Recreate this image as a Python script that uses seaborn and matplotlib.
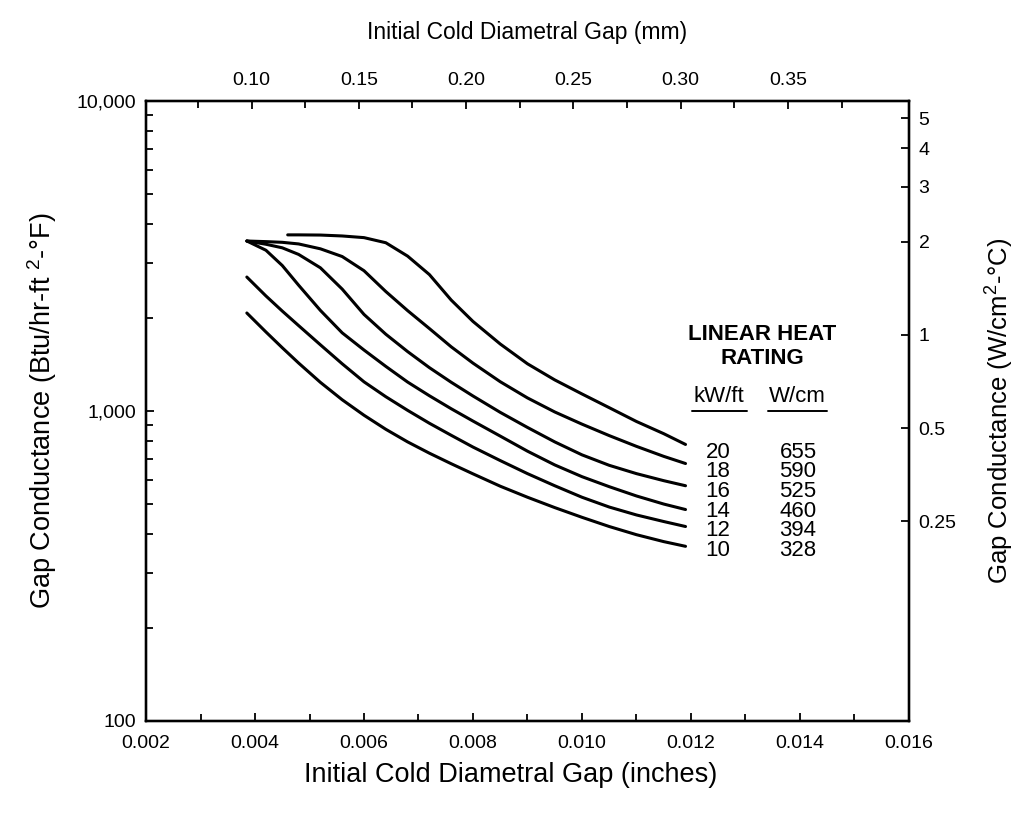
import numpy as np
import pandas as pd
import matplotlib
matplotlib.use("Agg")
import matplotlib.pyplot as plt
import seaborn as sns
from matplotlib.ticker import FixedLocator, NullFormatter, NullLocator, LogLocator
from matplotlib.lines import Line2D

# ---------------- data ----------------
gap_in = [0.00385, 0.0042, 0.0045, 0.0048, 0.0052, 0.0056, 0.0060, 0.0064, 0.0068, 0.0072,
          0.0076, 0.0080, 0.0085, 0.0090, 0.0095, 0.0100, 0.0105, 0.0110, 0.0115, 0.0119]
gap_in_20 = [0.0046, 0.0048, 0.0052, 0.0056, 0.0060, 0.0064, 0.0068, 0.0072, 0.0076,
             0.0080, 0.0085, 0.0090, 0.0095, 0.0100, 0.0105, 0.0110, 0.0115, 0.0119]

h_20 = [3700, 3700, 3695, 3670, 3625, 3490, 3160, 2755, 2280, 1945, 1645, 1420, 1260, 1135, 1025, 925, 845, 780]
h_18 = [3535, 3519, 3501, 3459, 3336, 3150, 2835, 2429, 2108, 1845, 1611, 1427, 1243, 1102, 993, 907, 833, 769, 714, 677]
h_16 = [3535, 3451, 3361, 3200, 2897, 2473, 2049, 1769, 1555, 1380, 1238, 1118, 990, 885, 795, 722, 668, 628, 596, 574]
h_14 = [3535, 3301, 2947, 2546, 2111, 1787, 1573, 1393, 1240, 1120, 1017, 928, 830, 742, 670, 614, 570, 532, 501, 481]
h_12 = [2705, 2351, 2101, 1886, 1635, 1420, 1242, 1112, 1005, 913, 835, 765, 692, 628, 574, 527, 490, 462, 440, 424]
h_10 = [2071, 1799, 1600, 1428, 1237, 1087, 969, 873, 795, 731, 676, 627, 572, 527, 488, 454, 424, 399, 379, 366]

ratings_kwft = ["20", "18", "16", "14", "12", "10"]
ratings_wcm = ["655", "590", "525", "460", "394", "328"]

x_major = [0.002, 0.004, 0.006, 0.008, 0.010, 0.012, 0.014, 0.016]
x_major_labels = ["0.002", "0.004", "0.006", "0.008", "0.010", "0.012", "0.014", "0.016"]
x_minor = [0.003, 0.005, 0.007, 0.009, 0.011, 0.013, 0.015]
y_major = [100, 1000, 10000]
y_major_labels = ["100", "1,000", "10,000"]

mm_major = [0.10, 0.15, 0.20, 0.25, 0.30, 0.35]
mm_major_labels = ["0.10", "0.15", "0.20", "0.25", "0.30", "0.35"]
mm_minor = [0.075, 0.125, 0.175, 0.225, 0.275, 0.325, 0.375]
MM_PER_IN = 25.4

wcm_ticks = [5, 4, 3, 2, 1, 0.5, 0.25]
wcm_labels = ["5", "4", "3", "2", "1", "0.5", "0.25"]
BTU_PER_WCM = 1761.0

# ---------------- build table ----------------
frames = []
for r, xs, ys in [("20", gap_in_20, h_20), ("18", gap_in, h_18), ("16", gap_in, h_16),
                  ("14", gap_in, h_14), ("12", gap_in, h_12), ("10", gap_in, h_10)]:
    frames.append(pd.DataFrame({"gap": xs, "h": ys, "rating": r}))
df = pd.concat(frames, ignore_index=True)

# ---------------- style ----------------
sns.set_style("ticks")
plt.rcParams["font.family"] = ["Liberation Sans", "DejaVu Sans"]
plt.rcParams["mathtext.fontset"] = "custom"
plt.rcParams["mathtext.rm"] = "Liberation Sans"
plt.rcParams["mathtext.it"] = "Liberation Sans:italic"
plt.rcParams["mathtext.bf"] = "Liberation Sans:bold"
plt.rcParams["text.color"] = "black"
plt.rcParams["axes.edgecolor"] = "black"
plt.rcParams["xtick.color"] = "black"
plt.rcParams["ytick.color"] = "black"
plt.rcParams["axes.labelcolor"] = "black"

fig = plt.figure(figsize=(10.19, 8.18), dpi=100)
ax = fig.add_axes([0.1433, 0.1186, 0.7487, 0.7579])

sns.lineplot(data=df, x="gap", y="h", units="rating", estimator=None, sort=False,
             color="black", lw=2.2, ax=ax, legend=False)

ax.set_yscale("log")
ax.set_xlim(0.002, 0.016)
ax.set_ylim(100, 10000)

ax.xaxis.set_major_locator(FixedLocator(x_major))
ax.set_xticklabels(x_major_labels)
ax.xaxis.set_minor_locator(FixedLocator(x_minor))
ax.xaxis.set_minor_formatter(NullFormatter())
ax.yaxis.set_major_locator(FixedLocator(y_major))
ax.set_yticklabels(y_major_labels)
ax.yaxis.set_minor_locator(LogLocator(base=10, subs=np.arange(2, 10)))
ax.yaxis.set_minor_formatter(NullFormatter())

TICK_FS = 14
ax.tick_params(which="both", direction="in", top=False, right=False, width=1.3, labelsize=TICK_FS)
ax.tick_params(which="major", length=6)
ax.tick_params(which="minor", length=5)
ax.tick_params(axis="x", pad=10)
ax.tick_params(axis="y", pad=7)
for s in ax.spines.values():
    s.set_linewidth(1.6)

ax.set_xlabel("Initial Cold Diametral Gap (inches)", fontsize=19.5)
ax.xaxis.set_label_coords(0.478, -0.066)
ax.set_ylabel("Gap Conductance (Btu/hr-ft $^{2}$-°F)", fontsize=19.5)
ax.yaxis.set_label_coords(-0.114, 0.5)

# top axis (mm)
axt = ax.twiny()
axt.set_xlim(ax.get_xlim())
axt.xaxis.set_major_locator(FixedLocator([v / MM_PER_IN for v in mm_major]))
axt.set_xticklabels(mm_major_labels)
axt.xaxis.set_minor_locator(FixedLocator([v / MM_PER_IN for v in mm_minor]))
axt.xaxis.set_minor_formatter(NullFormatter())
axt.tick_params(which="both", direction="in", width=1.3, labelsize=TICK_FS, pad=9)
axt.tick_params(which="major", length=6)
axt.tick_params(which="minor", length=5)
axt.set_xlabel("Initial Cold Diametral Gap (mm)", fontsize=16.5)
axt.xaxis.set_label_coords(0.5, 1.1)

# right axis (W/cm2-C)
axr = ax.twinx()
axr.set_yscale("log")
axr.set_ylim(100, 10000)
axr.yaxis.set_major_locator(FixedLocator([v * BTU_PER_WCM for v in wcm_ticks]))
axr.set_yticklabels(wcm_labels)
axr.yaxis.set_minor_locator(NullLocator())
axr.tick_params(which="both", direction="in", width=1.3, length=6, labelsize=TICK_FS, pad=7)
axr.set_ylabel("Gap Conductance (W/cm$^{2}$-°C)", fontsize=18.5, rotation=90)
axr.yaxis.set_label_coords(1.098, 0.5)
for a in (axt, axr):
    for s in a.spines.values():
        s.set_linewidth(1.6)

# rating key
W, H = 1019.0, 818.0
def fx(px):
    return px / W
def fy(py):
    return 1 - py / H

fig.text(fx(762), fy(335), "LINEAR HEAT", ha="center", va="center", fontsize=16, fontweight="bold")
fig.text(fx(762), fy(359), "RATING", ha="center", va="center", fontsize=16, fontweight="bold")
fig.text(fx(719), fy(396), "kW/ft", ha="center", va="center", fontsize=16)
fig.text(fx(797), fy(396), "W/cm", ha="center", va="center", fontsize=16)
fig.add_artist(Line2D([fx(692), fx(747)], [fy(411), fy(411)], color="black", lw=1.4))
fig.add_artist(Line2D([fx(768), fx(827)], [fy(411), fy(411)], color="black", lw=1.4))
for i, (k, w) in enumerate(zip(ratings_kwft, ratings_wcm)):
    yy = 452 + i * 19.7
    fig.text(fx(718), fy(yy), k, ha="center", va="center", fontsize=16)
    fig.text(fx(798), fy(yy), w, ha="center", va="center", fontsize=16)

fig.savefig("out.png", dpi=100, facecolor="white")
